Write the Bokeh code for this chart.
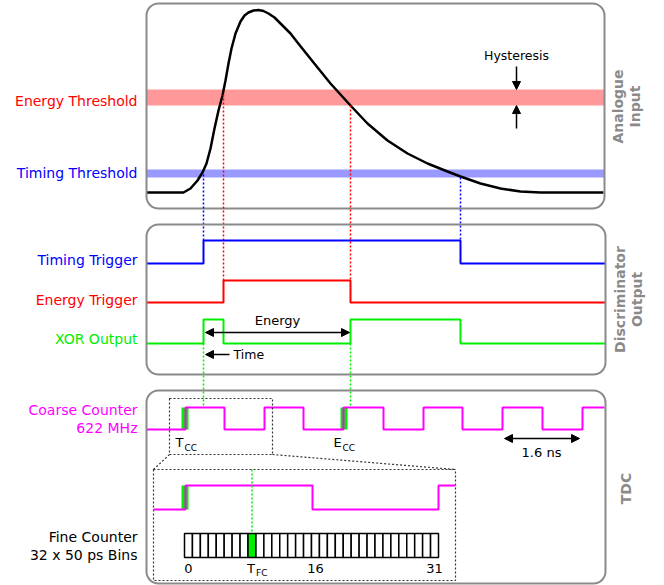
import numpy as np
from bokeh.plotting import figure
from bokeh.models import Range1d, Arrow, NormalHead
from bokeh.embed import file_html
from bokeh.resources import INLINE
from bokeh.core.properties import value

# ---------------- data ----------------
# analogue pulse (time position, signal level)
pulse_t = [146, 170, 183, 190, 197, 202, 206, 210, 214, 218, 222, 225, 228, 231, 235, 240, 244, 248,
           253, 258, 263, 268, 274, 280, 290, 297, 313, 330, 350, 367, 387, 407, 427, 447, 460,
           480, 500, 520, 540, 603]
pulse_v = [192, 192, 192, 188, 180, 172, 163, 148, 128, 110, 95, 80, 63, 48, 33, 21, 15, 12,
           10, 9.5, 10.5, 13, 17, 23, 33, 42, 62, 83, 105, 123, 140, 153, 163, 171, 176,
           183, 188, 191, 192, 192]

energy_band = (89, 105)
timing_band = (169, 177)

# discriminator events (threshold crossings)
timing_edges = [203, 460]
energy_edges = [223, 350]

# coarse counter clock edges (622 MHz, 1.6 ns period)
clock_edges = [185, 224, 264, 303, 343, 383, 423, 462, 502, 542, 582]
zoom_clock_edges = [185, 312, 438]

# fine counter
n_bins = 32
tfc_bin = 8
bin_labels = ["0", "16", "31"]
bin_label_idx = [0, 16, 31]

FONT = value("DejaVu Sans")
GRAY = "#8a8a8a"
GREEN = "#00ee00"
DOT = "2 2"

p = figure(width=664, height=585, x_range=Range1d(0, 664), y_range=Range1d(585, 0),
           toolbar_location=None, output_backend="svg", min_border=0)
p.axis.visible = False
p.grid.visible = False
p.outline_line_color = None
p.background_fill_color = "white"
p.border_fill_color = "white"


def txt(x, y, s, color="black", size="14px", align="right", baseline="middle", style="normal", angle=0.0):
    p.text(x=[x], y=[y], text=[s], text_font=FONT, text_font_size=value(size), text_color=color,
           text_align=align, text_baseline=baseline, text_font_style=style, angle=angle)


def square(edges, x0, x1, lo, hi, start_high=False):
    xs, ys = [x0], [hi if start_high else lo]
    level = start_high
    for e in edges:
        xs += [e, e]
        ys += [hi if level else lo, lo if level else hi]
        level = not level
    xs.append(x1)
    ys.append(hi if level else lo)
    return xs, ys


def vdot(x, y0, y1, color):
    p.line([x, x], [y0, y1], line_color=color, line_width=1.5, line_dash=DOT)


def arrow(x0, y0, x1, y1, both=False):
    p.add_layout(Arrow(x_start=x0, y_start=y0, x_end=x1, y_end=y1, line_width=1.5, line_color="black",
                       end=NormalHead(size=8, fill_color="black", line_color="black"),
                       start=NormalHead(size=8, fill_color="black", line_color="black") if both else None))


# ---------------- panel 1 : analogue input ----------------
p.quad(left=146, right=604, bottom=energy_band[1], top=energy_band[0], fill_color="#ff9999", line_color=None)
p.quad(left=146, right=604, bottom=timing_band[1], top=timing_band[0], fill_color="#9999ff", line_color=None)
p.line(pulse_t, pulse_v, line_color="black", line_width=2.5, line_join="round")
p.quad(left=146, right=604, top=3, bottom=208, fill_color=None, line_color=GRAY, line_width=2, border_radius=12)

txt(137, 100, "Energy Threshold", color="#ff0000")
txt(137, 172, "Timing Threshold", color="#0000ff")
txt(516, 55, "Hysteresis", size="12.5px", align="center")
arrow(516, 66, 516, 89)
arrow(516, 128, 516, 105)
txt(617, 106, "Analogue", color=GRAY, style="bold", align="center", angle=np.pi / 2)
txt(634, 106, "Input", color=GRAY, style="bold", align="center", angle=np.pi / 2)

# ---------------- panel 2 : discriminator output ----------------
T_HI, T_LO = 240, 263
E_HI, E_LO = 280, 302
X_HI, X_LO = 319, 343
xor_edges = sorted(timing_edges + energy_edges)

vdot(timing_edges[0], 174, T_HI, "#0000ff")
vdot(timing_edges[1], timing_band[1], T_HI, "#0000ff")
vdot(energy_edges[0], 94, E_HI, "#ff0000")
vdot(energy_edges[1], energy_band[1], E_HI, "#ff0000")

xs, ys = square(timing_edges, 146, 605, T_LO, T_HI)
p.line(xs, ys, line_color="#0000ff", line_width=2)
xs, ys = square(energy_edges, 146, 605, E_LO, E_HI)
p.line(xs, ys, line_color="#ff0000", line_width=2)
xs, ys = square(xor_edges, 146, 605, X_LO, X_HI)
p.line(xs, ys, line_color=GREEN, line_width=2)

arrow(timing_edges[0] + 2, 332, energy_edges[1] - 1, 332, both=True)
txt(277, 320, "Energy", size="13px", align="center")
arrow(229, 354, timing_edges[0] + 2, 354)
txt(233, 354, "Time", size="12.5px", align="left")

p.quad(left=146, right=605, top=224, bottom=374, fill_color=None, line_color=GRAY, line_width=2, border_radius=12)
txt(137, 259, "Timing Trigger", color="#0000ff")
txt(137, 299, "Energy Trigger", color="#ff0000")
txt(137, 338, "XOR Output", color=GREEN)
txt(619, 299, "Discriminator", color=GRAY, style="bold", align="center", angle=np.pi / 2)
txt(636, 299, "Output", color=GRAY, style="bold", align="center", angle=np.pi / 2)

# ---------------- panel 3 : TDC ----------------
C_HI, C_LO = 407, 429
vdot(timing_edges[0], X_LO, C_HI, GREEN)
vdot(energy_edges[1], X_LO, C_HI, GREEN)

# coarse counter edges that latch T and E
t_cc = max(e for e in clock_edges[::2] if e <= timing_edges[0])
e_cc = max(e for e in clock_edges[::2] if e <= energy_edges[1])
p.quad(left=[t_cc - 4, e_cc - 3], right=[t_cc + 3, e_cc + 4], top=C_HI, bottom=C_LO,
       fill_color=GREEN, line_color=None)
xs, ys = square(clock_edges, 146, 604, C_LO, C_HI)
p.line(xs, ys, line_color="#ff00ff", line_width=2)

txt(175, 442, "T", size="13px", align="left")
txt(184, 447, "CC", size="9px", align="left")
txt(333, 442, "E", size="13px", align="left")
txt(342, 447, "CC", size="9px", align="left")

arrow(504, 438, 579, 438, both=True)
txt(541, 452, "1.6 ns", size="13px", align="center")

# zoom boxes
BOX = "#333333"
p.quad(left=169, right=272, top=398, bottom=454, fill_color=None, line_color=BOX, line_width=1.2, line_dash=DOT)
p.quad(left=153, right=455, top=469, bottom=580, fill_color=None, line_color=BOX, line_width=1.2, line_dash=DOT)
p.line([169, 153], [454, 469], line_color=BOX, line_width=1.2, line_dash=DOT)
p.line([272, 455], [454, 469], line_color=BOX, line_width=1.2, line_dash=DOT)

Z_HI, Z_LO = 485, 509
p.quad(left=181, right=188, top=Z_HI, bottom=Z_LO, fill_color=GREEN, line_color=None)
xs, ys = square(zoom_clock_edges, 153, 455, Z_LO, Z_HI)
p.line(xs, ys, line_color="#ff00ff", line_width=2)

# fine counter bins
F_L, F_R, F_T, F_B = 184, 438, 533, 557
w = (F_R - F_L) / n_bins
lefts = [F_L + i * w for i in range(n_bins)]
fills = [GREEN if i == tfc_bin else "white" for i in range(n_bins)]
p.quad(left=lefts, right=[l + w for l in lefts], top=F_T, bottom=F_B, fill_color=fills,
       line_color="black", line_width=1.5)
vdot(F_L + (tfc_bin + 0.5) * w, 469, F_T, GREEN)
for lab, i in zip(bin_labels, bin_label_idx):
    txt(F_L + (i + 0.5) * w, 568, lab, size="13px", align="center")
txt(F_L + tfc_bin * w - 1, 568, "T", size="13px", align="left")
txt(F_L + tfc_bin * w + 8, 572, "FC", size="9px", align="left")

p.quad(left=146, right=605, top=390, bottom=583, fill_color=None, line_color=GRAY, line_width=2, border_radius=12)
txt(137, 409, "Coarse Counter", color="#ff00ff")
txt(137, 427, "622 MHz", color="#ff00ff")
txt(137, 536, "Fine Counter")
txt(137, 554, "32 x 50 ps Bins")
txt(625, 488, "TDC", color=GRAY, style="bold", align="center", angle=np.pi / 2)

open("out.html", "w").write(file_html(p, INLINE))
